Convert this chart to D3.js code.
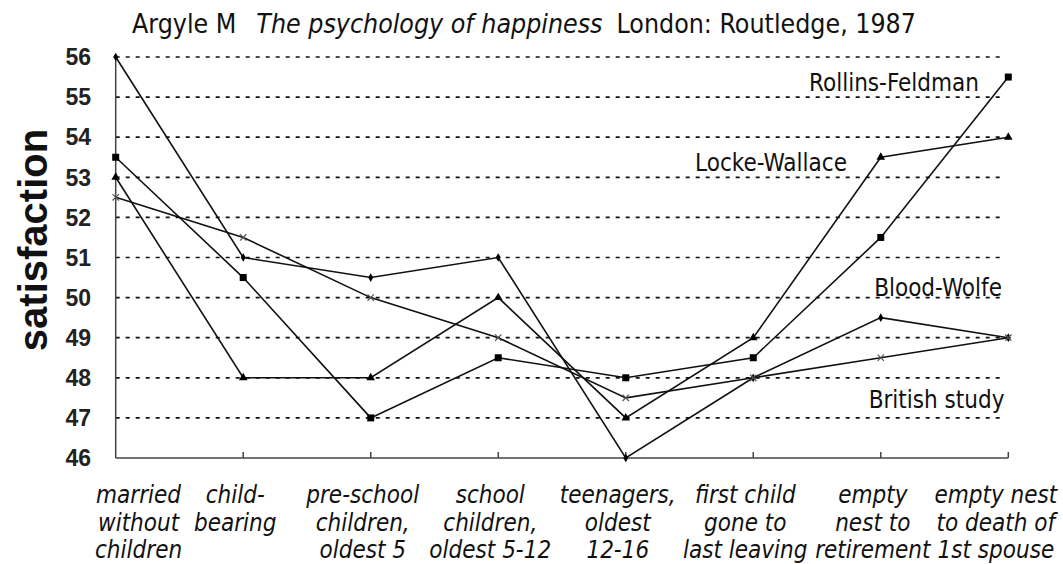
<!DOCTYPE html>
<html>
<head>
<meta charset="utf-8">
<script src="https://cdn.jsdelivr.net/npm/d3@7"></script>
<style>
  body { margin: 0; background: #fff; }
  svg { display: block; }
  .title, .cat, .lab { font-family: "DejaVu Sans Condensed", "DejaVu Sans", sans-serif; }
  .tick-label, .ylab { font-family: "Liberation Sans", Arial, sans-serif; font-weight: bold; }
</style>
</head>
<body>
<svg id="chart" width="1063" height="564"></svg>
<script>
// stages of the family life cycle
var categories = [
  ["married", "without", "children"],
  ["child-", "bearing"],
  ["pre-school", "children,", "oldest 5"],
  ["school", "children,", "oldest 5-12"],
  ["teenagers,", "oldest", "12-16"],
  ["first child", "gone to", "last leaving"],
  ["empty", "nest to", "retirement"],
  ["empty nest", "to death of", "1st spouse"]
];
var seriesNames = ["Rollins-Feldman", "Locke-Wallace", "Blood-Wolfe", "British study"];
var rollinsFeldman = [53.5, 50.5, 47, 48.5, 48, 48.5, 51.5, 55.5];
var lockeWallace   = [53, 48, 48, 50, 47, 49, 53.5, 54];
var bloodWolfe     = [56, 51, 50.5, 51, 46, 48, 49.5, 49];
var britishStudy   = [52.5, 51.5, 50, 49, 47.5, 48, 48.5, 49];
var yTicks = [46, 47, 48, 49, 50, 51, 52, 53, 54, 55, 56];

var svg = d3.select("#chart"),
    plotLeft = 115.7, plotRight = 1008.3, plotTop = 57, plotBottom = 458;

var x = d3.scalePoint().domain(d3.range(categories.length)).range([plotLeft, plotRight]);
var y = d3.scaleLinear().domain([46, 56]).range([plotBottom, plotTop]);

// title
var title = svg.append("text").attr("class", "title")
  .attr("x", 132).attr("y", 33).attr("font-size", 26.5).attr("fill", "#111");
title.append("tspan").text("Argyle M");
title.append("tspan").attr("dx", 20).attr("font-style", "italic").text("The psychology of happiness");
title.append("tspan").attr("dx", 14).text("London: Routledge, 1987");

// dashed grid lines
svg.append("g").selectAll("line")
  .data(yTicks.filter(function(d) { return d > 46; }))
  .enter().append("line")
    .attr("x1", plotLeft).attr("x2", plotRight - 4)
    .attr("y1", function(d) { return y(d); })
    .attr("y2", function(d) { return y(d); })
    .attr("stroke", "#111")
    .attr("stroke-width", 1.7)
    .attr("stroke-dasharray", "4,6");

// axes
svg.append("line").attr("x1", plotLeft).attr("x2", plotLeft).attr("y1", plotTop).attr("y2", plotBottom)
  .attr("stroke", "#444").attr("stroke-width", 1.5);
svg.append("line").attr("x1", plotLeft).attr("x2", plotRight).attr("y1", plotBottom).attr("y2", plotBottom)
  .attr("stroke", "#444").attr("stroke-width", 1.5);
svg.append("g").selectAll("line")
  .data(d3.range(1, categories.length))
  .enter().append("line")
    .attr("x1", function(d) { return x(d); }).attr("x2", function(d) { return x(d); })
    .attr("y1", plotBottom).attr("y2", plotBottom - 6)
    .attr("stroke", "#444").attr("stroke-width", 1.5);

// y tick labels
svg.append("g").selectAll("text")
  .data(yTicks)
  .enter().append("text")
    .attr("class", "tick-label")
    .attr("x", 91)
    .attr("y", function(d) { return y(d); })
    .attr("dy", "0.36em")
    .attr("text-anchor", "end")
    .attr("font-size", 23)
    .attr("fill", "#222")
    .text(function(d) { return d; });

svg.append("text").attr("class", "ylab")
  .attr("transform", "translate(47,240) rotate(-90)")
  .attr("text-anchor", "middle")
  .attr("font-size", 40)
  .attr("fill", "#111")
  .text("satisfaction");

// category labels, wrapped lines, kept inside the picture
var catG = svg.append("g").selectAll("text")
  .data(categories)
  .enter().append("text")
    .attr("class", "cat")
    .attr("font-size", 24)
    .attr("font-style", "italic")
    .attr("text-anchor", "middle")
    .attr("fill", "#111");
catG.each(function(lines, i) {
  var t = d3.select(this);
  lines.forEach(function(s, k) {
    t.append("tspan").attr("x", 0).attr("y", 503 + k * 27.5).text(s);
  });
  var w = this.getBBox().width, cx = x(i) - 8;
  cx = Math.max(cx, 95 + w / 2);
  cx = Math.min(cx, 1058 - w / 2);
  t.attr("transform", "translate(" + cx + ",0)");
});

// lines and markers
var times = {
  draw: function(ctx, size) {
    var r = Math.sqrt(size) / 2;
    ctx.moveTo(-r, -r); ctx.lineTo(r, r);
    ctx.moveTo(r, -r); ctx.lineTo(-r, r);
  }
};
var series = [
  { name: seriesNames[0], values: rollinsFeldman, symbol: d3.symbolSquare, size: 49, fill: "#000", stroke: "none" },
  { name: seriesNames[1], values: lockeWallace, symbol: d3.symbolTriangle, size: 32, fill: "#000", stroke: "none" },
  { name: seriesNames[2], values: bloodWolfe, symbol: d3.symbolDiamond, size: 22, fill: "#000", stroke: "none" },
  { name: seriesNames[3], values: britishStudy, symbol: times, size: 40, fill: "none", stroke: "#555" }
];

var line = d3.line()
  .x(function(d, i) { return x(i); })
  .y(function(d) { return y(d); });

var sg = svg.append("g").selectAll("g")
  .data(series)
  .enter().append("g");

sg.append("path")
  .attr("d", function(s) { return line(s.values); })
  .attr("fill", "none")
  .attr("stroke", "#111")
  .attr("stroke-width", 1.6);

sg.each(function(s) {
  d3.select(this).selectAll(".pt")
    .data(s.values)
    .enter().append("path")
      .attr("class", "pt")
      .attr("transform", function(d, i) { return "translate(" + x(i) + "," + y(d) + ")"; })
      .attr("d", d3.symbol().type(s.symbol).size(s.size))
      .attr("fill", s.fill)
      .attr("stroke", s.stroke)
      .attr("stroke-width", 1.2);
});

// series names, placed in data coordinates (category position, value)
var labelSpots = [
  { name: seriesNames[0], at: 6.77, v: 55.16 },
  { name: seriesNames[1], at: 5.735, v: 53.15 },
  { name: seriesNames[2], at: 6.95, v: 50.05 },
  { name: seriesNames[3], at: 6.97, v: 47.24 }
];
svg.append("g").selectAll("text")
  .data(labelSpots)
  .enter().append("text")
    .attr("class", "lab")
    .attr("x", function(d) { return plotLeft + d.at * (x(1) - x(0)); })
    .attr("y", function(d) { return y(d.v); })
    .attr("text-anchor", "end")
    .attr("font-size", 24)
    .attr("fill", "#111")
    .text(function(d) { return d.name; });
</script>
</body>
</html>
